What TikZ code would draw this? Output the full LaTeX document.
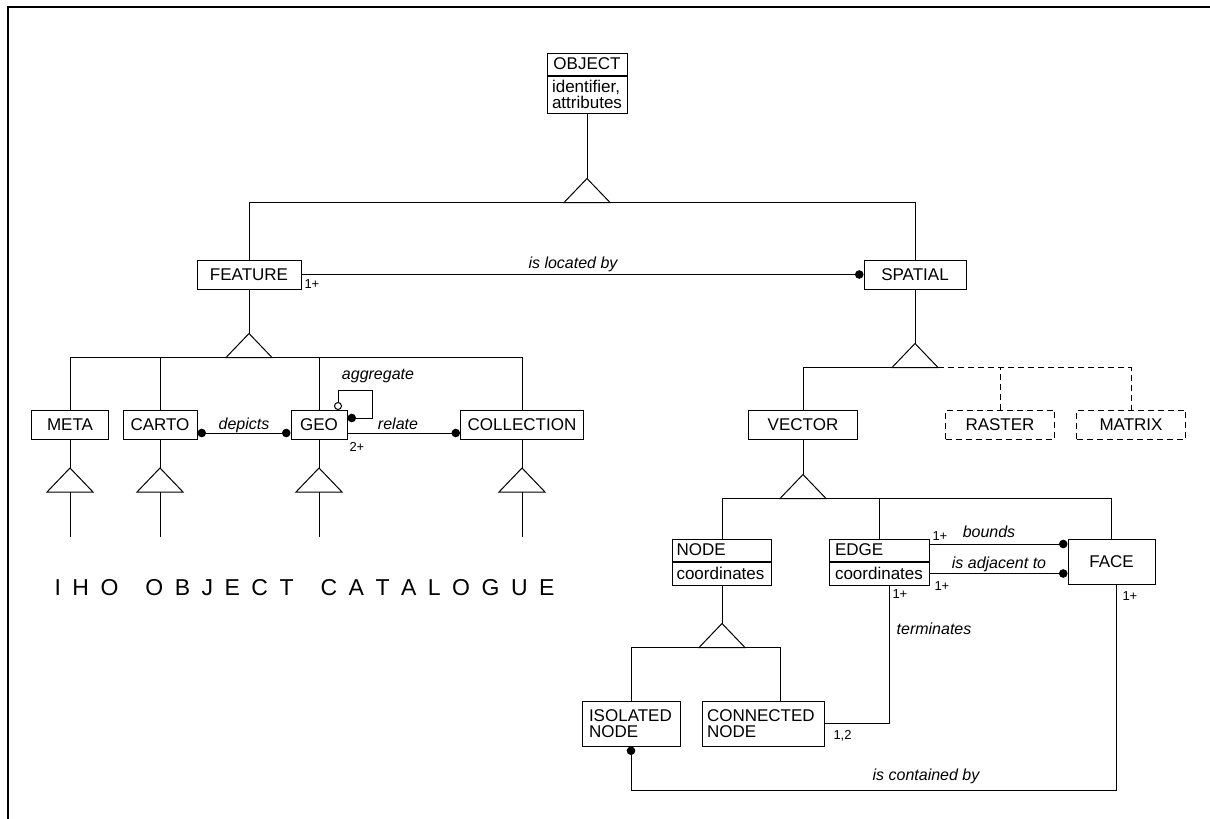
\documentclass[tikz,border=0pt]{standalone}
\usepackage{fontspec}
\setmainfont{Liberation Sans}
\usetikzlibrary{arrows.meta, positioning}
\newcommand{\ls}{\hspace{11.5pt}}
\newcommand{\ws}{\hspace{27pt}}
\tikzset{
  cls/.style={rectangle, draw, minimum height=29pt, inner sep=0pt, font=\fontsize{17}{16.5}\selectfont},
  part/.style={cls, minimum height=22pt},
  dashbox/.style={cls, dash pattern=on 6pt off 4pt},
  rel/.style={inner sep=0pt, font=\fontsize{16}{16}\selectfont\itshape},
  mult/.style={inner sep=0pt, font=\fontsize{13}{13}\selectfont},
  dot/.style={-{Circle[length=8.5pt]}},
  isa/.pic={\draw (0,0) -- (-23,24) -- (23,24) -- cycle;}
}

\begin{document}
\begin{tikzpicture}[x=1pt, y=-1pt, line width=1pt]
    \useasboundingbox (0,0) rectangle (1210,819);
    \draw[line width=2.7pt] (8,819) -- (8,7) -- (1210,7);

    % classes
    \node[part, minimum width=80pt] (object) at (587,64) {OBJECT};
    \node[cls, minimum width=80pt, minimum height=37pt, align=left, below=0pt of object] (objattr) {identifier,\\attributes};
    \node[cls, minimum width=104pt] (feature) at (249,274.5) {FEATURE};
    \node[cls, minimum width=102pt] (spatial) at (915,274.5) {SPATIAL};
    \node[cls, minimum width=77pt] (meta) at (70,425) {META};
    \node[cls, minimum width=74pt] (carto) at (160,425) {CARTO};
    \node[cls, minimum width=56pt] (geo) at (319,425) {GEO};
    \node[cls, minimum width=123pt] (coll) at (522,425) {COLLECTION};
    \node[cls, minimum width=109pt] (vector) at (803,424.5) {VECTOR};
    \node[dashbox, minimum width=109pt] (raster) at (1000,424.5) {RASTER};
    \node[dashbox, minimum width=109pt] (matrix) at (1131,424.5) {MATRIX};
    \node[part, minimum width=99pt, text width=91pt, align=left] (vnode) at (722,550) {NODE};
    \node[part, minimum width=99pt, text width=91pt, align=left, minimum height=23pt, below=0pt of vnode] (vnodeattr) {coordinates};
    \node[part, minimum width=100pt, text width=88pt, align=left] (edge) at (879,550) {EDGE};
    \node[part, minimum width=100pt, text width=88pt, align=left, minimum height=23pt, below=0pt of edge] (edgeattr) {coordinates};
    \node[cls, minimum width=87pt, minimum height=45pt] (face) at (1111.5,561.5) {FACE};
    \node[cls, minimum width=98pt, minimum height=45pt, text width=84pt, align=left] (isolated) at (631,723.5) {ISOLATED\\NODE};
    \node[cls, minimum width=122pt, minimum height=45pt, text width=112pt, align=left] (connected) at (763,723.5) {CONNECTED\\NODE};

    % generalisation
    \path (objattr.south) ++(0,65) coordinate (to) ++(0,24) coordinate (tob);
    \draw (objattr.south) -- (to) pic {isa};
    \draw (feature.north) |- (spatial.north |- tob) -- (spatial.north);

    \path (feature.south) ++(0,44) coordinate (tf) ++(0,24) coordinate (tfb);
    \draw (feature.south) -- (tf) pic {isa};
    \draw (meta.north) |- (coll.north |- tfb) -- (coll.north);
    \draw (carto.north) -- (carto.north |- tfb);
    \draw (geo.north) -- (geo.north |- tfb);
    \foreach \n in {meta,carto,geo,coll}{
      \path (\n.south) ++(0,28) coordinate (\n-top) ++(0,24) coordinate (\n-base) ++(0,45) coordinate (\n-end);
      \draw (\n.south) -- (\n-top) pic {isa};
      \draw (\n-base) -- (\n-end);
    }

    \path (spatial.south) ++(0,54) coordinate (ts) ++(0,24) coordinate (tsb);
    \draw (spatial.south) -- (ts) pic {isa};
    \draw (vector.north) |- (tsb);
    \draw[dash pattern=on 6pt off 4pt] ([xshift=23pt]tsb) -| (matrix.north);
    \draw[dash pattern=on 6pt off 4pt] (raster.north) -- (raster.north |- tsb);

    \path (vector.south) ++(0,35) coordinate (tv) ++(0,24) coordinate (tvb);
    \draw (vector.south) -- (tv) pic {isa};
    \draw (vnode.north) |- (face.north |- tvb) -- (face.north);
    \draw (edge.north) -- (edge.north |- tvb);

    \path (vnodeattr.south) ++(0,38) coordinate (tn) ++(0,24) coordinate (tnb);
    \draw (vnodeattr.south) -- (tn) pic {isa};
    \draw (isolated.north) |- ([xshift=17pt]connected.north |- tnb) -- ([xshift=17pt]connected.north);

    % associations
    \draw[dot] (feature.east) -- (spatial.west);
    \draw[{Circle[length=8.5pt]}-{Circle[length=8.5pt]}] ([yshift=-8pt]carto.east) -- ([yshift=-8pt]geo.west);
    \draw[dot] ([yshift=-8pt]geo.east) -- ([yshift=-8pt]coll.west);
    \draw[{Circle[length=8.5pt]}-{Circle[open,length=8pt]}] ([yshift=7pt]geo.east) -| ++(25,-28) -| ([xshift=19pt]geo.north);
    \draw[dot] ([yshift=6pt]edge.east) -- ([yshift=6pt]edge.east -| face.west);
    \draw[dot] (edgeattr.east) -- (edgeattr.east -| face.west);
    \draw ([xshift=10pt]edgeattr.south) |- (connected.east);
    \draw[dot] ([xshift=5pt]face.south) -- ++(0,206) -| (isolated.south);

    % labels
    \node[rel, anchor=base] (locby) at (573,268) {is located by};
    \node[mult, anchor=base west] (mfeat) at (304,288) {1+};
    \node[rel, anchor=base] (aggr) at (378,379) {aggregate};
    \node[rel, anchor=base] (depicts) at (244,429) {depicts};
    \node[rel, anchor=base] (relate) at (398,429) {relate};
    \node[mult, anchor=base west] (mgeo) at (349,451) {2+};
    \node[rel, anchor=base] (bounds) at (989,537) {bounds};
    \node[mult, anchor=base west] (mbounds) at (932,540) {1+};
    \node[rel, anchor=base] (adjto) at (999,568) {is adjacent to};
    \node[mult, anchor=base west] (madj) at (934,590) {1+};
    \node[mult, anchor=base west] (medge) at (892,598) {1+};
    \node[mult, anchor=base west] (mface) at (1122,600) {1+};
    \node[rel, anchor=base] (term) at (934,634) {terminates};
    \node[mult, anchor=base west] (mconn) at (833,739) {1,2};
    \node[rel, anchor=base] (contby) at (926,780) {is contained by};
    \node[anchor=base west, inner sep=0pt, font=\fontsize{23}{23}\selectfont] (title) at (54,595)
      {I\ls H\ls O\ws O\ls B\ls J\ls E\ls C\ls T\ws C\ls A\ls T\ls A\ls L\ls O\ls G\ls U\ls E};
  \end{tikzpicture}
\end{document}
